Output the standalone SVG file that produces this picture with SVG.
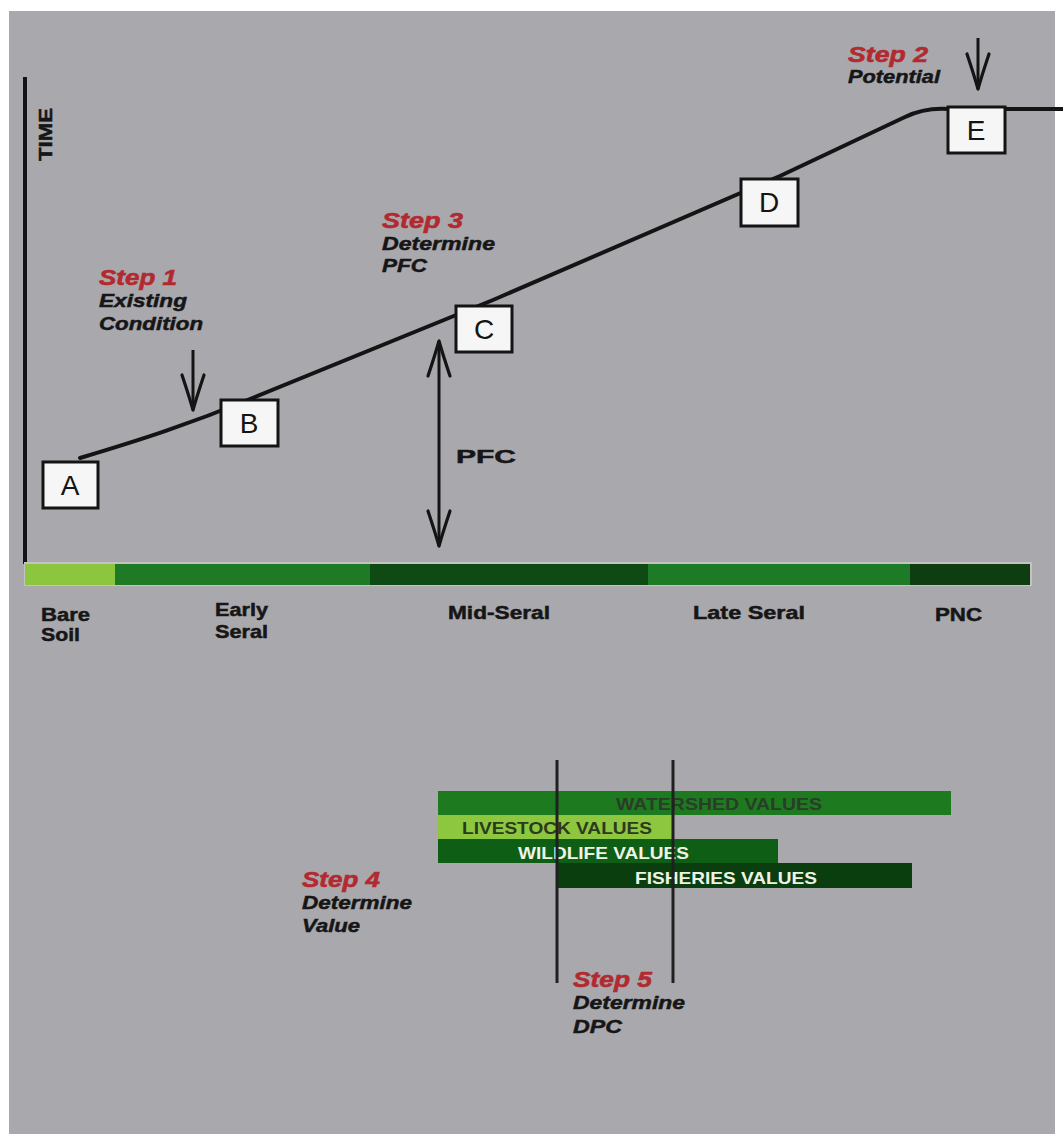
<svg xmlns="http://www.w3.org/2000/svg" width="1063" height="1134" viewBox="0 0 1063 1134">
  <defs>
    <marker id="head" viewBox="0 -14 40 28" markerWidth="40" markerHeight="28" refX="38" refY="0" orient="auto" markerUnits="userSpaceOnUse">
      <path d="M 3 -11 Q 24 -4 38 0 Q 24 4 3 11" fill="none" stroke="#141414" stroke-width="3.2" stroke-linecap="round" stroke-linejoin="round"/>
    </marker>
    <marker id="headStart" viewBox="0 -14 40 28" markerWidth="40" markerHeight="28" refX="2" refY="0" orient="auto" markerUnits="userSpaceOnUse">
      <path d="M 37 -11 Q 16 -4 2 0 Q 16 4 37 11" fill="none" stroke="#141414" stroke-width="3.2" stroke-linecap="round" stroke-linejoin="round"/>
    </marker>
  </defs>
  <style>
    .bg { fill: #a9a8ad; }
    .box { fill: #f6f6f6; stroke: #141414; stroke-width: 3; }
    .letter { font-family: "Liberation Sans", Arial, sans-serif; font-size: 28px; fill: #141414; text-anchor: middle; }
    .step { font-family: "Liberation Sans", Arial, sans-serif; font-size: 22px; font-weight: bold; font-style: italic; fill: #b22a30; stroke: #b22a30; stroke-width: 0.6; }
    .desc { font-family: "Liberation Sans", Arial, sans-serif; font-size: 19px; font-weight: bold; font-style: italic; fill: #161616; stroke: #161616; stroke-width: 0.5; }
    .lbl { font-family: "Liberation Sans", Arial, sans-serif; font-size: 19px; font-weight: bold; fill: #161616; stroke: #161616; stroke-width: 0.5; }
    .val { font-family: "Liberation Sans", Arial, sans-serif; font-size: 17px; font-weight: bold; }
    .line { fill: none; stroke: #141414; stroke-width: 4; stroke-linecap: round; stroke-linejoin: round; }
    .arrow { fill: none; stroke: #141414; stroke-width: 3; }
    .vline { stroke: #202020; stroke-width: 3; }
  </style>

  <rect x="0" y="0" width="1063" height="1134" fill="#ffffff"/>
  <rect class="bg" x="9" y="11" width="1046" height="1123"/>

  <!-- axis -->
  <g id="axis">
    <line x1="25" y1="77" x2="25" y2="564" stroke="#141414" stroke-width="4"/>
    <text class="lbl" transform="translate(52,161) rotate(-90)" font-size="17" textLength="53" lengthAdjust="spacingAndGlyphs">TIME</text>
  </g>

  <!-- seral stage bar -->
  <g id="seral-bar">
    <rect x="24" y="562" width="1008" height="24" fill="#c4c3c2"/>
    <rect x="25" y="564" width="90" height="21" fill="#8cc63e"/>
    <rect x="115" y="564" width="255" height="21" fill="#1f7a25"/>
    <rect x="370" y="564" width="278" height="21" fill="#0f4a14"/>
    <rect x="648" y="564" width="262" height="21" fill="#1d7a27"/>
    <rect x="910" y="564" width="120" height="21" fill="#0e3d12"/>
    <text class="lbl" x="41" y="621" textLength="49" lengthAdjust="spacingAndGlyphs">Bare</text>
    <text class="lbl" x="41" y="641" textLength="39" lengthAdjust="spacingAndGlyphs">Soil</text>
    <text class="lbl" x="215" y="616" textLength="53" lengthAdjust="spacingAndGlyphs">Early</text>
    <text class="lbl" x="215" y="638" textLength="53" lengthAdjust="spacingAndGlyphs">Seral</text>
    <text class="lbl" x="448" y="619" textLength="102" lengthAdjust="spacingAndGlyphs">Mid-Seral</text>
    <text class="lbl" x="693" y="619" textLength="112" lengthAdjust="spacingAndGlyphs">Late Seral</text>
    <text class="lbl" x="935" y="621" textLength="47" lengthAdjust="spacingAndGlyphs">PNC</text>
  </g>

  <!-- connectors -->
  <g id="connectors">
    <path class="line" d="M 80 458 C 140 440, 190 424, 250 399 L 493 300 L 780 176 L 905 117 Q 925 107 950 109 L 1063 109"/>
    <line class="arrow" x1="193" y1="350" x2="193" y2="410" marker-end="url(#head)"/>
    <line class="arrow" x1="978" y1="38" x2="978" y2="89" marker-end="url(#head)"/>
    <line class="arrow" x1="439" y1="341" x2="439" y2="546" marker-start="url(#headStart)" marker-end="url(#head)"/>
    <text class="lbl" x="456" y="463" font-size="24" textLength="60" lengthAdjust="spacingAndGlyphs">PFC</text>
  </g>

  <!-- nodes -->
  <g id="node-A">
    <rect class="box" x="43" y="462" width="55" height="46"/>
    <text class="letter" x="70" y="495">A</text>
  </g>
  <g id="node-B">
    <rect class="box" x="221" y="400" width="57" height="46"/>
    <text class="letter" x="249" y="433">B</text>
  </g>
  <g id="node-C">
    <rect class="box" x="456" y="306" width="56" height="46"/>
    <text class="letter" x="484" y="339">C</text>
  </g>
  <g id="node-D">
    <rect class="box" x="741" y="179" width="57" height="47"/>
    <text class="letter" x="769" y="212">D</text>
  </g>
  <g id="node-E">
    <rect class="box" x="948" y="107" width="57" height="46"/>
    <text class="letter" x="976" y="140">E</text>
  </g>

  <!-- step labels -->
  <g id="step-1">
    <text class="step" x="99" y="285" textLength="78" lengthAdjust="spacingAndGlyphs">Step 1</text>
    <text class="desc" x="99" y="307" textLength="88" lengthAdjust="spacingAndGlyphs">Existing</text>
    <text class="desc" x="99" y="330" textLength="104" lengthAdjust="spacingAndGlyphs">Condition</text>
  </g>
  <g id="step-2">
    <text class="step" x="848" y="62" textLength="80" lengthAdjust="spacingAndGlyphs">Step 2</text>
    <text class="desc" x="848" y="83" textLength="92" lengthAdjust="spacingAndGlyphs">Potential</text>
  </g>
  <g id="step-3">
    <text class="step" x="382" y="228" textLength="81" lengthAdjust="spacingAndGlyphs">Step 3</text>
    <text class="desc" x="382" y="250" textLength="113" lengthAdjust="spacingAndGlyphs">Determine</text>
    <text class="desc" x="382" y="272" textLength="45" lengthAdjust="spacingAndGlyphs">PFC</text>
  </g>
  <g id="step-4">
    <text class="step" x="302" y="887" textLength="78" lengthAdjust="spacingAndGlyphs">Step 4</text>
    <text class="desc" x="302" y="909" textLength="110" lengthAdjust="spacingAndGlyphs">Determine</text>
    <text class="desc" x="302" y="932" textLength="58" lengthAdjust="spacingAndGlyphs">Value</text>
  </g>
  <g id="step-5">
    <text class="step" x="573" y="987" textLength="79" lengthAdjust="spacingAndGlyphs">Step 5</text>
    <text class="desc" x="573" y="1009" textLength="112" lengthAdjust="spacingAndGlyphs">Determine</text>
    <text class="desc" x="573" y="1033" textLength="49" lengthAdjust="spacingAndGlyphs">DPC</text>
  </g>

  <!-- value bars -->
  <g id="value-bars">
    <rect x="438" y="791" width="513" height="24" fill="#1e7a1e"/>
    <text class="val" x="616" y="810" fill="#2a3d2a" textLength="206" lengthAdjust="spacingAndGlyphs">WATERSHED VALUES</text>
    <rect x="438" y="815" width="235" height="24" fill="#8dc63f"/>
    <text class="val" x="462" y="834" fill="#2c3a1e" textLength="190" lengthAdjust="spacingAndGlyphs">LIVESTOCK VALUES</text>
    <rect x="438" y="839" width="340" height="24" fill="#0f5e16"/>
    <text class="val" x="518" y="859" fill="#eef3e6" textLength="171" lengthAdjust="spacingAndGlyphs">WILDLIFE VALUES</text>
    <rect x="557" y="863" width="355" height="25" fill="#0b3e0f"/>
    <text class="val" x="635" y="884" fill="#eef3e6" textLength="182" lengthAdjust="spacingAndGlyphs">FISHERIES VALUES</text>
  </g>

  <g id="dpc-lines">
    <line class="vline" x1="557" y1="760" x2="557" y2="983"/>
    <line class="vline" x1="673" y1="760" x2="673" y2="983"/>
  </g>
</svg>
